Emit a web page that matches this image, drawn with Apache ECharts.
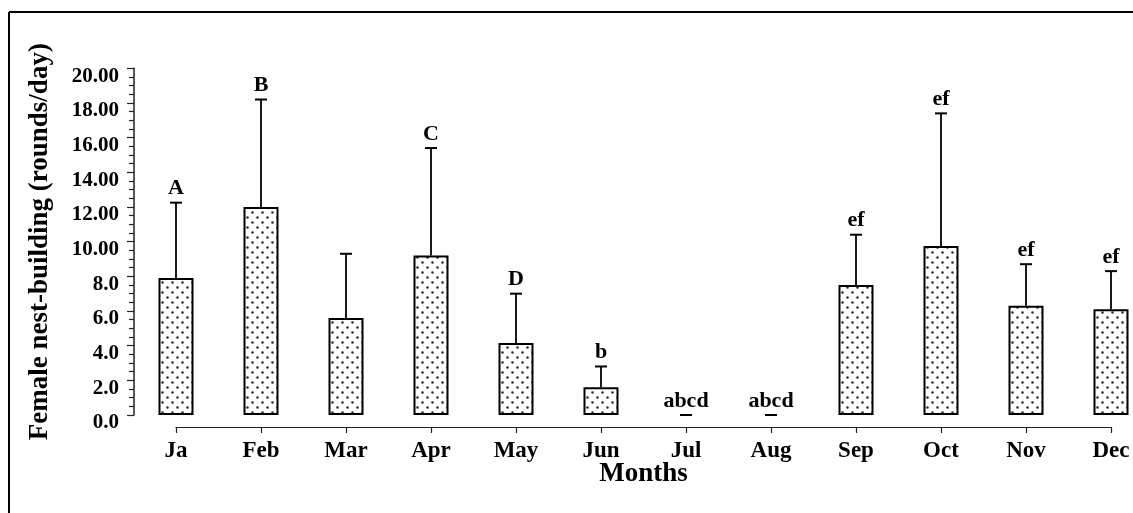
<!DOCTYPE html>
<html>
<head>
<meta charset="utf-8">
<script src="https://cdn.jsdelivr.net/npm/echarts@6/dist/echarts.min.js"></script>
<style>
    html, body {margin: 0; padding: 0; background: #fff;}
    #chart {width: 1133px; height: 513px;}
</style>
</head>
<body>
<div id="chart"></div>
<script>
// data
const months = ['Ja', 'Feb', 'Mar', 'Apr', 'May', 'Jun', 'Jul', 'Aug', 'Sep', 'Oct', 'Nov', 'Dec'];
const means = [7.9, 12.0, 5.6, 9.2, 4.15, 1.6, 0, 0, 7.5, 9.75, 6.3, 6.1];
const upper = [12.25, 18.2, 9.3, 15.4, 7.0, 2.8, 0, 0, 10.4, 17.4, 8.7, 8.3];
const letters = ['A', 'B', '', 'C', 'D', 'b', 'abcd', 'abcd', 'ef', 'ef', 'ef', 'ef'];

const serif = "'Liberation Serif', 'Times New Roman', serif";

// dotted fill like the original print
const makeDots = () => {
    let c = document.createElement('canvas');
    c.width = 10;
    c.height = 10;
    let ctx = c.getContext('2d');
    ctx.fillStyle = '#fff';
    ctx.fillRect(0, 0, 10, 10);
    ctx.fillStyle = '#2a2a2a';
    ctx.beginPath();
    ctx.arc(2.5, 2.5, 1.3, 0, Math.PI * 2);
    ctx.arc(7.5, 7.5, 1.3, 0, Math.PI * 2);
    ctx.fill();
    return c;
}

const init = () => {
    let chartDom = document.getElementById('chart');
    let myChart = echarts.init(chartDom);
    let dots = makeDots();
    let option;
    option = {
        backgroundColor: '#fff',
        animation: false,
        graphic: [
            {type: 'line', shape: {x1: 9, y1: 12, x2: 1140, y2: 12}, style: {stroke: '#000', lineWidth: 2}},
            {type: 'line', shape: {x1: 9, y1: 12, x2: 9, y2: 520}, style: {stroke: '#000', lineWidth: 2}}
        ],
        grid: {
            left: 176,
            right: 22,
            top: 68.3,
            bottom: 98
        },
        xAxis: {
            type: 'category',
            data: months,
            boundaryGap: false,
            offset: 12,
            name: 'Months',
            nameLocation: 'middle',
            nameGap: 34,
            nameMoveOverlap: false,
            nameTextStyle: {
                fontFamily: serif,
                fontWeight: 'bold',
                fontSize: 27,
                color: '#000'
            },
            axisLine: {onZero: false, lineStyle: {color: '#222', width: 1.2}},
            axisTick: {alignWithLabel: true, length: 6, lineStyle: {color: '#222', width: 1.2}},
            axisLabel: {
                fontFamily: serif,
                fontWeight: 'bold',
                fontSize: 23,
                color: '#000',
                margin: 13,
                interval: 0
            },
            splitLine: {show: false}
        },
        yAxis: {
            type: 'value',
            min: 0,
            max: 20,
            interval: 2,
            offset: 42,
            name: 'Female nest-building (rounds/day)',
            nameLocation: 'middle',
            nameGap: 80,
            nameMoveOverlap: false,
            nameTextStyle: {
                fontFamily: serif,
                fontWeight: 'bold',
                fontSize: 27,
                color: '#000'
            },
            axisLine: {show: true, lineStyle: {color: '#222', width: 1.5}},
            axisTick: {show: true, length: 7, lineStyle: {color: '#222', width: 1.2}},
            minorTick: {show: true, splitNumber: 4, length: 5, lineStyle: {color: '#222', width: 1.2}},
            axisLabel: {
                margin: 15,
                formatter: function (v) {
                    return '{t|' + (v >= 10 ? v.toFixed(2) : v.toFixed(1)) + '}';
                },
                rich: {
                    t: {
                        fontFamily: serif,
                        fontWeight: 'bold',
                        fontSize: 21,
                        color: '#000',
                        padding: [16, 0, 0, 0]
                    }
                }
            },
            splitLine: {show: false}
        },
        series: [
            {
                name: 'mean',
                type: 'bar',
                barWidth: 35,
                data: means.map(function (v) {
                    return v === 0 ? {value: 0, itemStyle: {borderWidth: 0}} : v;
                }),
                itemStyle: {
                    color: {image: dots, repeat: 'repeat'},
                    borderColor: '#000',
                    borderWidth: 2
                },
                z: 2
            },
            {
                name: 'error',
                type: 'custom',
                data: months.map(function (m, i) {
                    return [i, means[i], upper[i]];
                }),
                encode: {x: 0, y: 2},
                renderItem: function (params, api) {
                    let i = api.value(0);
                    let top = api.coord([i, api.value(2)]);
                    let base = api.coord([i, api.value(1)]);
                    let half = 6;
                    let label = letters[i];
                    let children = [
                        {
                            type: 'line',
                            shape: {x1: top[0], y1: top[1], x2: base[0], y2: base[1]},
                            style: {stroke: '#000', lineWidth: 1.8}
                        },
                        {
                            type: 'line',
                            shape: {x1: top[0] - half, y1: top[1], x2: top[0] + half, y2: top[1]},
                            style: {stroke: '#000', lineWidth: 2}
                        }
                    ];
                    if (label) {
                        children.push({
                            type: 'text',
                            x: top[0],
                            y: top[1] - 3,
                            style: {
                                text: label,
                                fill: '#000',
                                font: 'bold 22px ' + serif,
                                align: 'center',
                                verticalAlign: 'bottom'
                            }
                        });
                    }
                    return {type: 'group', children: children};
                },
                z: 3
            }
        ]
    };

    option && myChart.setOption(option);
}

init();
</script>
</body>
</html>
